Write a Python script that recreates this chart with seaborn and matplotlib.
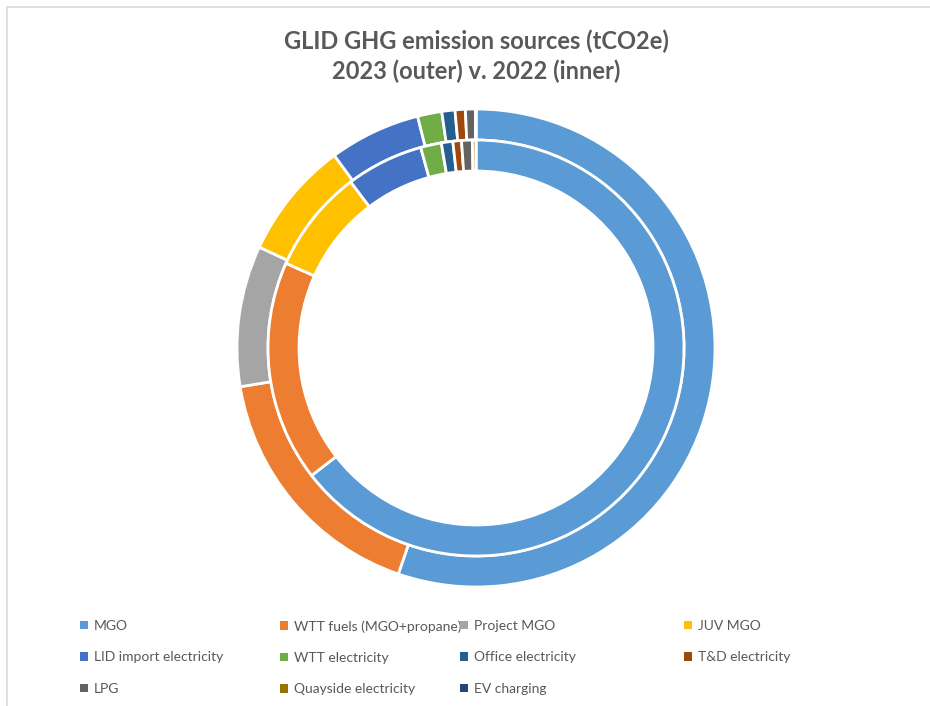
import matplotlib.pyplot as plt
import numpy as np
import seaborn as sns
from matplotlib.lines import Line2D
from matplotlib.patches import Patch

sns.set_style("white")
plt.rcParams['font.family'] = ['Lato', 'DejaVu Sans']

# emission shares (tCO2e proportions)
sources = ["MGO", "WTT fuels (MGO+propane)", "Project MGO", "JUV MGO",
           "LID import electricity", "WTT electricity", "Office electricity",
           "T&D electricity", "LPG", "Quayside electricity", "EV charging"]
values_2023 = [199, 61.7, 34.3, 28.7, 22.2, 5.9, 3.2, 2.5, 2.5, 0, 0.05]
values_2022 = [232, 61.8, 0, 28.9, 21.6, 5.8, 3.2, 2.4, 3.0, 1.0, 0]

colors = ["#5B9BD5", "#ED7D31", "#A5A5A5", "#FFC000", "#4472C4", "#70AD47",
          "#255E91", "#9E480E", "#636363", "#997300", "#264478"]

W, H = 930, 706
fig = plt.figure(figsize=(W / 100, H / 100), dpi=100)

cx, cy, r = 476, 348, 239
ax = fig.add_axes([(cx - r) / W, (H - cy - r) / H, 2 * r / W, 2 * r / H])

ring = 31 / r
wp = dict(width=ring, edgecolor="white", linewidth=2)
ax.pie(values_2023, radius=1.0, colors=colors, startangle=90, counterclock=False,
       wedgeprops=wp)
ax.pie(values_2022, radius=1.0 - ring, colors=colors, startangle=90, counterclock=False,
       wedgeprops=wp)
ax.set_xlim(-1, 1)
ax.set_ylim(-1, 1)
ax.axis("off")

fig.text(cx / W, 1 - 30 / H, "GLID GHG emission sources (tCO2e)\n2023 (outer) v. 2022 (inner)",
         ha="center", va="top", fontsize=17, fontweight="bold", color="#595959",
         linespacing=1.3)

# legend: one legend per column so the columns sit where they do in the original
col_x = [80, 280, 460, 684]
for j, x in enumerate(col_x):
    idx = list(range(j, len(sources), 4))
    handles = [Patch(facecolor=colors[i], edgecolor="none") for i in idx]
    labels = [sources[i] for i in idx]
    fig.legend(handles, labels, loc="upper left",
               bbox_to_anchor=(x / W, 1 - 620 / H), frameon=False,
               fontsize=10, handlelength=0.55, handleheight=0.55,
               handletextpad=0.45, labelspacing=1.4, borderpad=0,
               borderaxespad=0, labelcolor="#595959")

# chart frame visible at the top-left of the screenshot
fig.add_artist(Line2D([7 / W, 7 / W], [0, 1 - 7 / H], color="#D9D9D9", lw=1.2))
fig.add_artist(Line2D([7 / W, 1], [1 - 7 / H, 1 - 7 / H], color="#D9D9D9", lw=1.2))

fig.savefig("out.png", dpi=100)
